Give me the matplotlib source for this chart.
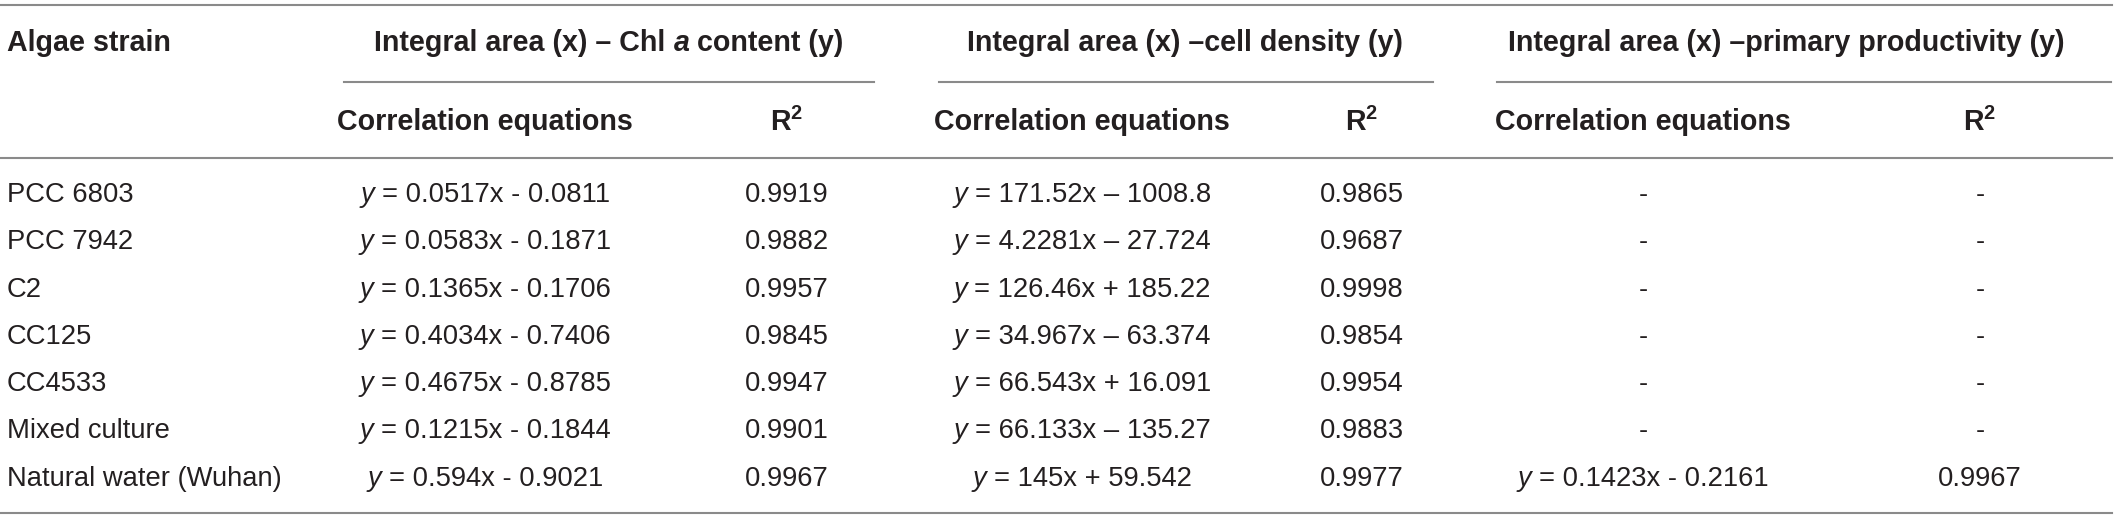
import matplotlib
matplotlib.use("Agg")
import matplotlib.pyplot as plt

# table content
strains = ["PCC 6803", "PCC 7942", "C2", "CC125", "CC4533",
           "Mixed culture", "Natural water (Wuhan)"]
chl_eq = ["0.0517x - 0.0811", "0.0583x - 0.1871", "0.1365x - 0.1706",
          "0.4034x - 0.7406", "0.4675x - 0.8785", "0.1215x - 0.1844",
          "0.594x - 0.9021"]
chl_r2 = ["0.9919", "0.9882", "0.9957", "0.9845", "0.9947", "0.9901", "0.9967"]
cell_eq = ["171.52x \u2013 1008.8", "4.2281x \u2013 27.724", "126.46x + 185.22",
           "34.967x \u2013 63.374", "66.543x + 16.091", "66.133x \u2013 135.27",
           "145x + 59.542"]
cell_r2 = ["0.9865", "0.9687", "0.9998", "0.9854", "0.9954", "0.9883", "0.9977"]
prod_eq = ["-", "-", "-", "-", "-", "-", "0.1423x - 0.2161"]
prod_r2 = ["-", "-", "-", "-", "-", "-", "0.9967"]

groups = [
    [("Integral area (x) \u2013 Chl", "bold", "normal"), ("a", "bold", "italic"),
     ("content (y)", "bold", "normal")],
    [("Integral area (x) \u2013cell density (y)", "bold", "normal")],
    [("Integral area (x) \u2013primary productivity (y)", "bold", "normal")],
]

W, H = 2118, 519
FONT = "Liberation Sans"
TXT = "#231f20"
LINE = "#8a8a8a"

plt.rcParams["mathtext.fontset"] = "custom"
plt.rcParams["mathtext.rm"] = FONT
plt.rcParams["mathtext.bf"] = FONT + ":bold"
plt.rcParams["mathtext.it"] = FONT + ":italic"

fig = plt.figure(figsize=(W / 100, H / 100), dpi=100)
ax = fig.add_axes([0, 0, 1, 1])
ax.set_xlim(0, W)
ax.set_ylim(H, 0)
ax.axis("off")
renderer = fig.canvas.get_renderer()


def text_w(s, size, weight, style):
    t = ax.text(0, 0, s, fontsize=size, fontweight=weight, fontstyle=style,
                family=FONT)
    w = t.get_window_extent(renderer).width
    t.remove()
    return w


def draw_runs(xc, y, parts, size):
    # parts: (text, weight, style); a space goes between parts
    widths = [text_w(p[0], size, p[1], p[2]) for p in parts]
    sp = text_w("x x", size, parts[0][1], "normal") - text_w("xx", size, parts[0][1], "normal")
    total = sum(widths) + sp * (len(parts) - 1)
    x = xc - total / 2
    for (s, wt, st), w in zip(parts, widths):
        ax.text(x, y, s, fontsize=size, fontweight=wt, fontstyle=st, family=FONT,
                color=TXT, ha="left", va="center")
        x += w + sp


def draw_eq(xc, y, rhs, size):
    if rhs == "-":
        ax.text(xc, y, rhs, fontsize=size, family=FONT, color=TXT,
                ha="center", va="center")
    else:
        draw_runs(xc, y, [("y", "normal", "italic"), ("= " + rhs, "normal", "normal")], size)


HS = 20.6   # header size
DS = 19.7   # body size

# rules
ax.plot([0, 2112], [5, 5], color=LINE, lw=1.5)
ax.plot([0, 2112], [158, 158], color=LINE, lw=1.5)
ax.plot([0, 2112], [513, 513], color=LINE, lw=1.5)
sub_spans = [(344, 874), (939, 1433), (1497, 2111)]
for a, b in sub_spans:
    ax.plot([a, b], [82, 82], color=LINE, lw=1.5)

# headers
ax.text(7, 43, "Algae strain", fontsize=HS, fontweight="bold", family=FONT,
        color=TXT, ha="left", va="center")
group_x = [609, 1185, 1786]
for gx, parts in zip(group_x, groups):
    draw_runs(gx, 43, parts, HS)

eq_x = [485, 1082, 1643]
r2_x = [787, 1362, 1980]
for ex, rx in zip(eq_x, r2_x):
    ax.text(ex, 122, "Correlation equations", fontsize=HS, fontweight="bold",
            family=FONT, color=TXT, ha="center", va="center")
    ax.text(rx, 122, r"$\mathbf{R^2}$", fontsize=HS, color=TXT,
            ha="center", va="center")

# body rows
row_y0, row_dy = 195, 47.3
for i, name in enumerate(strains):
    y = row_y0 + i * row_dy
    ax.text(7, y, name, fontsize=DS, family=FONT, color=TXT, ha="left", va="center")
    draw_eq(eq_x[0], y, chl_eq[i], DS)
    ax.text(r2_x[0], y, chl_r2[i], fontsize=DS, family=FONT, color=TXT, ha="center", va="center")
    draw_eq(eq_x[1], y, cell_eq[i], DS)
    ax.text(r2_x[1], y, cell_r2[i], fontsize=DS, family=FONT, color=TXT, ha="center", va="center")
    draw_eq(eq_x[2], y, prod_eq[i], DS)
    ax.text(r2_x[2], y, prod_r2[i], fontsize=DS, family=FONT, color=TXT, ha="center", va="center")

fig.savefig("out.png", dpi=100, facecolor="white")
